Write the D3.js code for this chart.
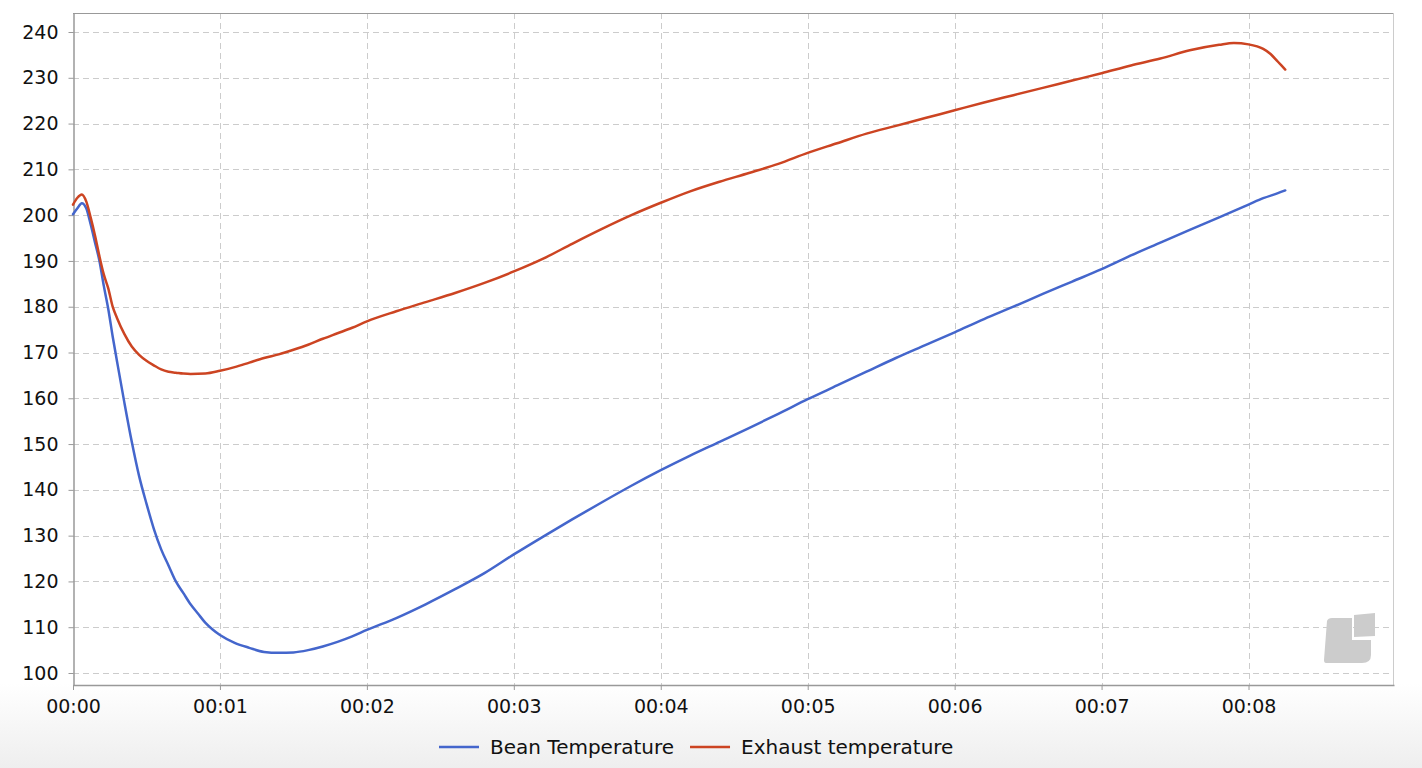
<!DOCTYPE html>
<html>
<head>
<meta charset="utf-8">
<script src="https://cdn.jsdelivr.net/npm/d3@7/dist/d3.min.js"></script>
<style>
  html, body { margin: 0; padding: 0; background: #fff; }
  svg { display: block; font-family: "DejaVu Sans", sans-serif; }
</style>
</head>
<body>
<svg id="chart" width="1422" height="768"></svg>
<script>
// ---- data (time in minutes) ----
const beanTime = [0.00,0.03,0.06,0.09,0.12,0.15,0.18,0.21,0.24,0.27,0.30,0.35,0.40,0.45,0.50,0.55,0.60,0.65,0.70,0.75,0.80,0.85,0.90,0.95,1.00,1.10,1.20,1.30,1.40,1.50,1.60,1.70,1.80,1.90,2.00,2.20,2.40,2.60,2.80,3.00,3.20,3.40,3.60,3.80,4.00,4.20,4.40,4.60,4.80,5.00,5.20,5.40,5.60,5.80,6.00,6.20,6.40,6.60,6.80,7.00,7.20,7.40,7.60,7.80,8.00,8.10,8.20,8.25];
const beanTemp = [200.2,201.5,202.6,201.5,198.0,194.0,190.0,184.5,179.5,173.5,168.0,159.0,150.5,143.0,137.0,131.5,127.0,123.5,120.0,117.5,115.0,113.0,111.0,109.5,108.3,106.6,105.5,104.6,104.4,104.5,105.0,105.8,106.8,108.0,109.4,112.0,115.0,118.3,121.8,125.9,129.8,133.6,137.3,140.9,144.3,147.5,150.5,153.5,156.6,159.8,162.8,165.8,168.8,171.6,174.4,177.3,180.0,182.8,185.5,188.2,191.2,194.0,196.8,199.5,202.3,203.7,204.8,205.4];

const exhaustTime = [0.00,0.03,0.06,0.09,0.12,0.15,0.18,0.21,0.24,0.27,0.30,0.35,0.40,0.45,0.50,0.55,0.60,0.65,0.70,0.75,0.80,0.90,1.00,1.10,1.20,1.30,1.40,1.50,1.60,1.70,1.80,1.90,2.00,2.20,2.40,2.60,2.80,3.00,3.20,3.40,3.60,3.80,4.00,4.20,4.40,4.60,4.80,5.00,5.20,5.40,5.60,5.80,6.00,6.20,6.40,6.60,6.80,7.00,7.20,7.40,7.60,7.80,7.90,8.00,8.10,8.15,8.20,8.25];
const exhaustTemp = [202.3,203.8,204.5,203.0,199.5,195.5,191.0,187.0,184.0,180.0,177.5,174.0,171.3,169.5,168.2,167.2,166.3,165.8,165.6,165.4,165.3,165.4,166.0,166.8,167.8,168.8,169.6,170.6,171.7,173.0,174.2,175.4,176.8,179.0,181.0,183.0,185.2,187.7,190.5,193.8,197.0,200.0,202.7,205.2,207.3,209.2,211.2,213.6,215.7,217.8,219.5,221.2,222.9,224.6,226.2,227.8,229.4,231.0,232.7,234.2,236.0,237.2,237.6,237.3,236.3,235.2,233.5,231.8];

const xTickValues = [0,1,2,3,4,5,6,7,8];
const xTickLabels = ["00:00","00:01","00:02","00:03","00:04","00:05","00:06","00:07","00:08"];
const yTickValues = [100,110,120,130,140,150,160,170,180,190,200,210,220,230,240];
const seriesNames = ["Bean Temperature","Exhaust temperature"];
const seriesColors = ["#4466cc","#cc4422"];

// ---- layout ----
const W = 1422, H = 768;
const plot = {left: 73, right: 1394, top: 13, bottom: 685};
const svg = d3.select("#chart");

// background gradient at bottom
const defs = svg.append("defs");
const grad = defs.append("linearGradient").attr("id","bg").attr("x1",0).attr("y1",0).attr("x2",0).attr("y2",1);
grad.append("stop").attr("offset","0").attr("stop-color","#ffffff");
grad.append("stop").attr("offset","0.89").attr("stop-color","#ffffff");
grad.append("stop").attr("offset","1").attr("stop-color","#eeeeee");
svg.append("rect").attr("width",W).attr("height",H).attr("fill","url(#bg)");

const x = d3.scaleLinear().domain([0, 8.99]).range([plot.left, plot.right]);
const y = d3.scaleLinear().domain([97.38, 244.15]).range([plot.bottom, plot.top]);

svg.append("rect").attr("x",plot.left).attr("y",plot.top)
  .attr("width",plot.right-plot.left).attr("height",plot.bottom-plot.top).attr("fill","#fff");

// grid
const grid = svg.append("g");
grid.selectAll("line.h").data(yTickValues).join("line")
  .attr("x1",plot.left).attr("x2",plot.right)
  .attr("y1",d=>Math.round(y(d))+0.5).attr("y2",d=>Math.round(y(d))+0.5)
  .attr("stroke","#cccccc").attr("stroke-width",1).attr("stroke-dasharray","6,4");
grid.selectAll("line.v").data(xTickValues.slice(1)).join("line")
  .attr("y1",plot.top).attr("y2",plot.bottom)
  .attr("x1",d=>Math.round(x(d))+0.5).attr("x2",d=>Math.round(x(d))+0.5)
  .attr("stroke","#cccccc").attr("stroke-width",1).attr("stroke-dasharray","6,4");

// logo
const logo = svg.append("g").attr("fill","#cccccc");
logo.append("path").attr("d",
  "M1327,621 Q1328,618 1332,618 L1352,618 L1352,640 L1371,640 L1371,655 Q1371,663 1362,663 L1326,663 Q1324,663 1324,660 Z");
logo.append("path").attr("d","M1354,615 L1375,613 L1375,636 L1354,637 Z");

// borders
svg.append("line").attr("x1",plot.left).attr("x2",plot.right).attr("y1",plot.top+0.5).attr("y2",plot.top+0.5)
  .attr("stroke","#999999");
svg.append("line").attr("x1",plot.right-0.5).attr("x2",plot.right-0.5).attr("y1",plot.top).attr("y2",plot.bottom)
  .attr("stroke","#cccccc");

// axes
const yAxis = d3.axisLeft(y).tickValues(yTickValues).tickSize(5).tickSizeOuter(0).tickPadding(10).tickFormat(d3.format("d"));
const gy = svg.append("g").attr("transform",`translate(${plot.left+0.5},0)`).call(yAxis);
const xAxis = d3.axisBottom(x).tickValues(xTickValues).tickSize(5).tickSizeOuter(0).tickPadding(10)
  .tickFormat((d,i)=>xTickLabels[i]);
const gx = svg.append("g").attr("transform",`translate(0,${plot.bottom})`).call(xAxis);
[gy,gx].forEach(g=>{
  g.select(".domain").attr("stroke","#999999").attr("stroke-width",1.5);
  g.selectAll(".tick line").attr("stroke","#999999");
  g.selectAll(".tick text").attr("fill","#111").style("font-size","19px")
    .style("font-family","'DejaVu Sans', sans-serif");
});

// lines
const mk = (times, vals) => times.map((t,i)=>({t, v: vals[i]}));
const line = d3.line().x(d=>x(d.t)).y(d=>y(d.v)).curve(d3.curveMonotoneX);
const series = [mk(beanTime, beanTemp), mk(exhaustTime, exhaustTemp)];
svg.append("g").selectAll("path").data(series).join("path")
  .attr("d", line).attr("fill","none")
  .attr("stroke",(d,i)=>seriesColors[i]).attr("stroke-width",2.5)
  .attr("stroke-linejoin","round").attr("stroke-linecap","round");

// legend
const leg = svg.append("g").style("font-size","20px");
let cx = 439;
seriesNames.forEach((name,i)=>{
  leg.append("line").attr("x1",cx).attr("x2",cx+40).attr("y1",747).attr("y2",747)
    .attr("stroke",seriesColors[i]).attr("stroke-width",2.5);
  const t = leg.append("text").attr("x",cx+51).attr("y",754).attr("fill","#111").text(name);
  cx += 51 + t.node().getComputedTextLength() + 16;
});
</script>
</body>
</html>
